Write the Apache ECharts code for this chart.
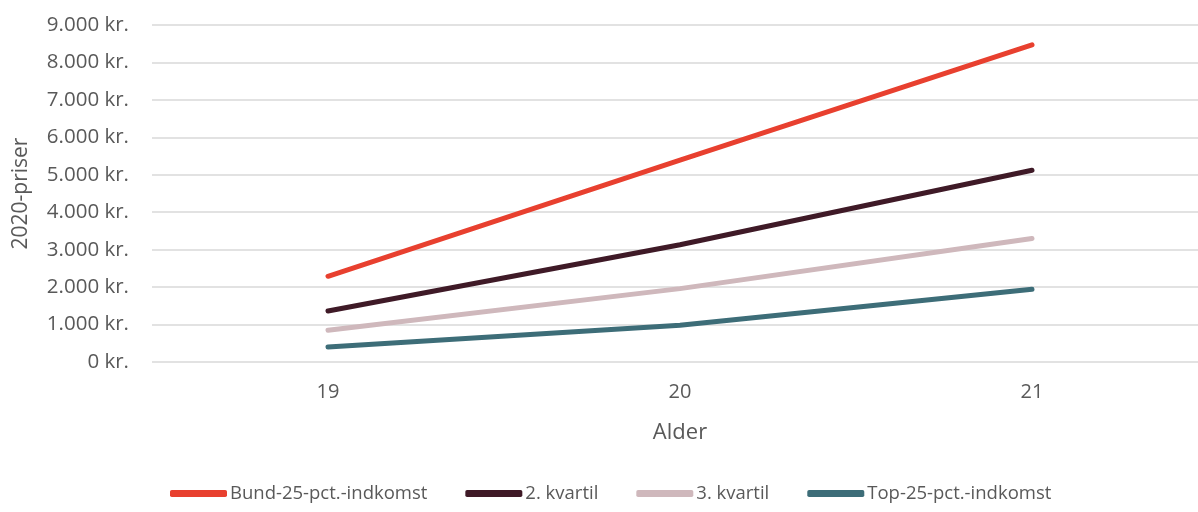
<!DOCTYPE html>
<html>
<head>
<meta charset="utf-8">
<script src="https://cdn.jsdelivr.net/npm/echarts@6/dist/echarts.min.js"></script>
<style>
  html, body { margin: 0; padding: 0; background: #fff; overflow: hidden; }
  /* the plot area runs a little past the right edge of the page */
  #wrap { width: 1198px; height: 512px; overflow: hidden; }
  #chart { width: 1210px; height: 512px; }
</style>
</head>
<body>
<div id="wrap"><div id="chart"></div></div>
<script>
// Ages on the x axis
const ages = ['19', '20', '21'];

// Series names (income groups)
const seriesNames = ['Bund-25-pct.-indkomst', '2. kvartil', '3. kvartil', 'Top-25-pct.-indkomst'];

// Values in kr. (2020 prices)
const bund25 = [2290, 5390, 8470];
const kvartil2 = [1360, 3130, 5120];
const kvartil3 = [850, 1960, 3300];
const top25 = [400, 980, 1940];

const seriesColors = ['#E8402F', '#3F1A27', '#CFB8BC', '#3D6D78'];

const textColor = '#595959';
const fontFamily = '"Open Sans", "Noto Sans", sans-serif';

function fmtKr(v) {
  const s = String(Math.round(v)).replace(/\B(?=(\d{3})+(?!\d))/g, '.');
  return s + ' kr.';
}

const chart = echarts.init(document.getElementById('chart'));

const dataSets = [bund25, kvartil2, kvartil3, top25];

chart.setOption({
  animation: false,
  backgroundColor: '#ffffff',
  grid: { left: 152, right: 2, top: 25, height: 337 },
  legend: {
    left: 165,
    bottom: 4,
    itemWidth: 57,
    itemHeight: 7,
    itemGap: 38,
    icon: 'roundRect',
    textStyle: { color: textColor, fontSize: 18.5, fontFamily: fontFamily, padding: [0, 0, 0, -2] },
    data: seriesNames
  },
  xAxis: {
    type: 'category',
    data: ages,
    boundaryGap: true,
    name: 'Alder',
    nameLocation: 'middle',
    nameGap: 60,
    nameTextStyle: { color: textColor, fontSize: 22, fontFamily: fontFamily },
    axisLine: { show: false },
    axisTick: { show: false },
    axisLabel: { color: textColor, fontSize: 20, fontFamily: fontFamily, margin: 20 }
  },
  yAxis: {
    type: 'value',
    min: 0,
    max: 9000,
    interval: 1000,
    name: '2020-priser',
    nameLocation: 'middle',
    nameGap: 120,
    nameTextStyle: { color: textColor, fontSize: 21, fontFamily: fontFamily },
    axisLine: { show: false },
    axisTick: { show: false },
    axisLabel: {
      color: textColor, fontSize: 20.5, fontFamily: fontFamily, margin: 23,
      formatter: fmtKr
    },
    splitLine: { lineStyle: { color: '#D9D9D9', width: 1.5 } }
  },
  series: seriesNames.map((name, i) => ({
    name: name,
    type: 'line',
    data: dataSets[i],
    symbol: 'none',
    color: seriesColors[i],
    lineStyle: { width: 5, color: seriesColors[i], cap: 'round', join: 'round' }
  }))
});
</script>
</body>
</html>
